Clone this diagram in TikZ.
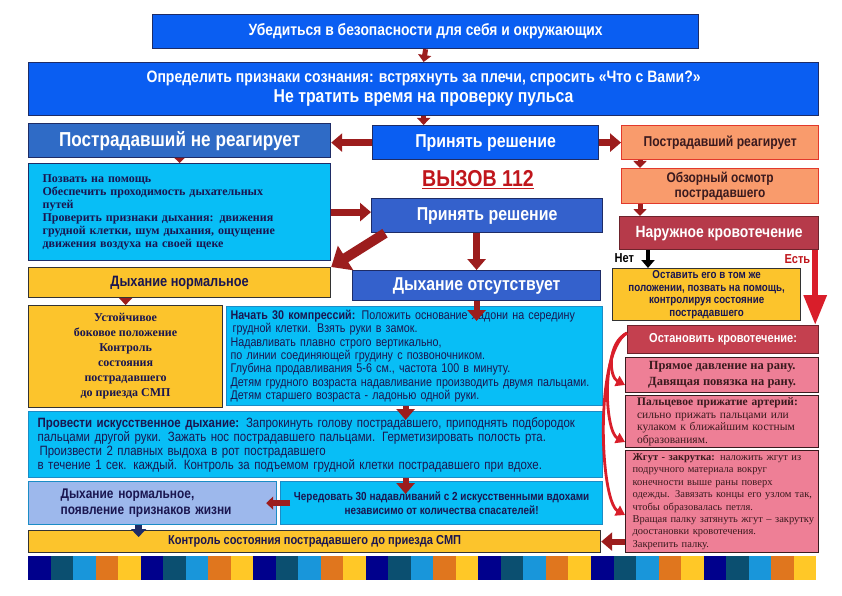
\documentclass[tikz,border=0pt]{standalone}
\usepackage{fontspec}
\setmainfont{Liberation Sans}[FakeStretch=0.85]
\newfontfamily\timesface{Liberation Serif}
\usetikzlibrary{arrows.meta}
\definecolor{AidBlue}{HTML}{0A5EF2}
\definecolor{AidMidBlue}{HTML}{2F6BC6}
\definecolor{AidDeepBlue}{HTML}{3461CC}
\definecolor{AidFrame}{HTML}{1E2C66}
\definecolor{AidCyan}{HTML}{08BEF6}
\definecolor{AidCyanFrame}{HTML}{1B8CC6}
\definecolor{AidYellow}{HTML}{FCC42C}
\definecolor{AidSalmon}{HTML}{F99B6C}
\definecolor{AidSalmonFrame}{HTML}{E2392B}
\definecolor{AidWine}{HTML}{B63A4A}
\definecolor{AidCrimson}{HTML}{C4404F}
\definecolor{AidRose}{HTML}{EE7F96}
\definecolor{AidPale}{HTML}{9DB8EC}
\definecolor{AidInk}{HTML}{1A1650}
\definecolor{AidBrown}{HTML}{3A1A1E}
\definecolor{AidArrow}{HTML}{9C1D1D}
\definecolor{AidRed}{HTML}{D91E2A}
\definecolor{AidCall}{HTML}{C0161C}
\definecolor{StripeNavy}{HTML}{00008C}
\definecolor{StripeTeal}{HTML}{0B4F70}
\definecolor{StripeSky}{HTML}{1996DA}
\definecolor{StripeOrange}{HTML}{E0761E}
\definecolor{StripeGold}{HTML}{FFC827}
\newcommand{\aidsize}[2]{\fontsize{#1}{#2}\selectfont}

\begin{document}
\begin{tikzpicture}[x=1pt,y=-1pt,
    box/.style={draw=AidFrame,line width=1.2pt,anchor=north west,inner sep=2pt,align=center,font=\bfseries},
    bluebox/.style={box,fill=AidBlue,text=white},
    midbox/.style={box,fill=AidDeepBlue,text=white},
    cyanbox/.style={box,fill=AidCyan,draw=AidCyanFrame,text=AidInk},
    yellowbox/.style={box,fill=AidYellow,draw=black!80,text=AidInk},
    salmonbox/.style={box,fill=AidSalmon,draw=AidSalmonFrame,text=AidBrown},
    winebox/.style={box,fill=AidWine,draw=AidWine!60!black,text=white},
    rosebox/.style={box,fill=AidRose,draw=AidBrown,text=AidBrown},
    flow/.style={draw=AidArrow,line width=7pt,-{Triangle[length=11pt,width=18pt]}},
    smallflow/.style={draw=AidArrow,line width=5pt,-{Triangle[length=7pt,width=13pt]}},
    bigflow/.style={draw=AidArrow,line width=10pt,-{Triangle[length=17pt,width=28pt]}},
    bleedflow/.style={draw=AidRed,line width=2.8pt,-{Triangle[length=9pt,width=11pt]}}]
  \fill[white] (0,0) rectangle (842,596);
  \useasboundingbox (0,0) rectangle (842,596);

  \node[bluebox,minimum width=546pt,minimum height=34pt,font=\bfseries\aidsize{16.3}{18}] (safety) at (152,14) {Убедиться в безопасности для себя и окружающих};
  \node[bluebox,minimum width=790pt,minimum height=53pt,font=\bfseries\aidsize{16.5}{20}] (conscious) at (28,62) {Определить признаки сознания: встряхнуть за плечи, спросить «Что с Вами?»\\{\aidsize{18.6}{20}Не тратить время на проверку пульса}};
  \node[box,fill=AidMidBlue,text=white,minimum width=302pt,minimum height=34pt,font=\bfseries\aidsize{20.2}{22}] (noresp) at (28,123) {Пострадавший не реагирует};
  \node[bluebox,minimum width=226pt,minimum height=34pt,font=\bfseries\aidsize{18.7}{20}] (decide) at (372,125) {Принять решение};
  \node[salmonbox,minimum width=197pt,minimum height=34pt,font=\bfseries\aidsize{14.3}{16}] (resp) at (621,125) {Пострадавший реагирует};
  \node[cyanbox,draw=AidFrame,minimum width=302pt,minimum height=97pt,text width=274pt,inner xsep=14pt,align=left,font=\timesface\bfseries\aidsize{12}{13}] (checks) at (28,163) {Позвать на помощь\\Обеспечить проходимость дыхательных\\путей\\Проверить признаки дыхания: движения\\грудной клетки, шум дыхания, ощущение\\движения воздуха на своей щеке};
  \node[text=AidCall,font=\bfseries\aidsize{23}{25}] (call) at (478,180) {\underline{ВЫЗОВ 112}};
  \node[midbox,minimum width=231pt,minimum height=34pt,font=\bfseries\aidsize{18.7}{20}] (decide2) at (371,198) {Принять решение};
  \node[salmonbox,minimum width=197pt,minimum height=35pt,font=\bfseries\aidsize{14}{15}] (exam) at (621,168) {Обзорный осмотр\\пострадавшего};
  \node[winebox,minimum width=199pt,minimum height=33pt,font=\bfseries\aidsize{16.3}{18}] (bleed) at (619,216) {Наружное кровотечение};
  \node[anchor=west,font=\bfseries\aidsize{13}{15}] (no) at (611,258) {Нет};
  \node[anchor=west,text=AidCall,font=\bfseries\aidsize{13}{15}] (yes) at (781,259) {Есть};
  \node[yellowbox,minimum width=188pt,minimum height=52pt,font=\bfseries\aidsize{11.5}{12.5}] (keep) at (612,268) {Оставить его в том же\\положении, позвать на помощь,\\контролируя состояние\\пострадавшего};
  \node[yellowbox,minimum width=302pt,minimum height=30pt,font=\bfseries\aidsize{15}{17}] (normal) at (28,267) {Дыхание нормальное};
  \node[midbox,minimum width=248pt,minimum height=30pt,font=\bfseries\aidsize{18.6}{20}] (absent) at (352,270) {Дыхание отсутствует};
  \node[yellowbox,minimum width=194pt,minimum height=102pt,font=\timesface\bfseries\aidsize{12}{15}] (stable) at (28,305) {Устойчивое\\боковое положение\\Контроль\\состояния\\пострадавшего\\до приезда СМП};
  \node[cyanbox,minimum width=376pt,minimum height=99pt,text width=368pt,inner xsep=4pt,inner ysep=1pt,align=left,font=\aidsize{12.6}{13.3}] (compress) at (226,306) {\textbf{Начать 30 компрессий:} Положить основание ладони на середину\\\hspace{2pt}грудной клетки. Взять руки в замок.\\Надавливать плавно строго вертикально,\\по линии соединяющей грудину с позвоночником.\\Глубина продавливания 5-6 см., частота 100 в минуту.\\Детям грудного возраста надавливание производить двумя пальцами.\\Детям старшего возраста - ладонью одной руки.};
  \node[winebox,fill=AidCrimson,minimum width=191pt,minimum height=28pt,font=\bfseries\aidsize{13}{14}] (stopbleed) at (627,325) {Остановить кровотечение:};
  \node[rosebox,minimum width=193pt,minimum height=35pt,font=\timesface\bfseries\aidsize{12.5}{16}] (pressure) at (625,357) {Прямое давление на рану.\\Давящая повязка на рану.};
  \node[rosebox,minimum width=193pt,minimum height=52pt,text width=170pt,inner xsep=11.5pt,inner ysep=1pt,align=left,font=\timesface\aidsize{11.5}{12.5}] (artery) at (625,395) {\textbf{Пальцевое прижатие артерий:}\\сильно прижать пальцами или\\кулаком к ближайшим костным\\образованиям.};
  \node[rosebox,minimum width=193pt,minimum height=102pt,text width=179pt,inner xsep=7pt,inner ysep=1pt,align=left,font=\timesface\aidsize{10.5}{12.4}] (tourniquet) at (625,450) {\textbf{Жгут - закрутка:} наложить жгут из\\подручного материала вокруг\\конечности выше раны поверх\\\mbox{одежды. Завязать концы его узлом так,}\\чтобы образовалась петля.\\\mbox{Вращая палку затянуть жгут – закрутку}\\доостановки кровотечения.\\Закрепить палку.};
  \node[cyanbox,minimum width=574pt,minimum height=66pt,text width=556pt,inner xsep=9pt,align=left,font=\aidsize{13.5}{14}] (breathe) at (28,411) {\textbf{Провести искусственное дыхание:} Запрокинуть голову пострадавшего, приподнять подбородок\\пальцами другой руки. Зажать нос пострадавшего пальцами. Герметизировать полость рта.\\\hspace{2pt}Произвести 2 плавных выдоха в рот пострадавшего\\в течение 1 сек. каждый. Контроль за подъемом грудной клетки пострадавшего при вдохе.};
  \node[cyanbox,fill=AidPale,minimum width=248pt,minimum height=43pt,text width=184pt,inner xsep=32pt,align=left,font=\bfseries\aidsize{14}{16}] (revived) at (28,481) {Дыхание нормальное,\\появление признаков жизни};
  \node[cyanbox,minimum width=322pt,minimum height=43pt,font=\bfseries\aidsize{11.7}{13.5}] (alternate) at (280,481) {Чередовать 30 надавливаний с 2 искусственными вдохами\\независимо от количества спасателей!};
  \node[yellowbox,minimum width=572pt,minimum height=22pt,font=\bfseries\aidsize{13}{14}] (control) at (28,530) {Контроль состояния пострадавшего до приезда СМП};

  \draw[smallflow] (safety.south) -- (conscious.north);
  \draw[smallflow] (conscious.south) -- (conscious.south |- decide.north);
  \draw[flow] (decide.west) -- (decide.west -| noresp.east);
  \draw[flow] (decide.east) -- (decide.east -| resp.west);
  \draw[smallflow,line width=4pt,-{Triangle[length=5pt,width=10pt]}] (noresp.south) -- (checks.north);
  \draw[flow] (checks.east) -- (checks.east -| decide2.west);
  \draw[bigflow] ([xshift=14pt]decide2.south west) -- (normal.north east);
  \draw[flow] (absent.north |- decide2.south) -- (absent.north);
  \draw[smallflow] (stable.north |- normal.south) -- (stable.north);
  \draw[flow,line width=6pt,shorten >=-15pt] (absent.south) -- (absent.south |- compress.north);
  \draw[flow,line width=6pt,shorten >=-9pt] ([xshift=-9pt]compress.south) -- ([xshift=-9pt]compress.south |- breathe.north);
  \draw[flow,line width=6pt,shorten >=-13pt] ([xshift=-9pt]compress.south |- breathe.south) -- ([xshift=-9pt]compress.south |- alternate.north);
  \draw[smallflow,line width=6pt,shorten <=-10pt,shorten >=-11pt] (alternate.west) -- (alternate.west -| revived.east);
  \draw[smallflow,draw=AidFrame,line width=7pt,-{Triangle[length=8pt,width=15pt]},shorten >=-7pt] ([xshift=-14pt]revived.south) -- ([xshift=-14pt]revived.south |- control.north);
  \draw[flow,line width=6pt] (tourniquet.west |- control.east) -- (control.east);
  \draw[smallflow] ([xshift=19pt]resp.south west) -- ([xshift=19pt]exam.north west);
  \draw[smallflow] ([xshift=19pt]exam.south west) -- ([xshift=21pt]bleed.north west);
  \draw[black,line width=4pt,-{Triangle[length=8pt,width=13pt]}] ([xshift=29pt]bleed.south west) -- ([xshift=29pt]bleed.south west |- keep.north);
  \draw[AidRed,line width=6pt,-{Triangle[length=30pt,width=22pt]}] ([xshift=-4pt]bleed.south east) -- ([xshift=-4pt]bleed.south east |- stopbleed.north);
  \draw[bleedflow] ([yshift=-8pt]stopbleed.north west) .. controls +(-20,10) and +(-16,-8) .. ([yshift=-28pt]pressure.north west);
  \draw[bleedflow] ([yshift=-8pt]stopbleed.north west) .. controls +(-27,14) and +(-20,-10) .. ([yshift=-47pt]artery.north west);
  \draw[bleedflow] ([yshift=-8pt]stopbleed.north west) .. controls +(-33,20) and +(-25,-14) .. ([yshift=-65pt]tourniquet.north west);

  \foreach \k in {0,...,6}
    \foreach \c [count=\j from 0] in {StripeNavy,StripeTeal,StripeSky,StripeOrange,StripeGold}
      \fill[\c] ({28+112.6*\k+22.52*\j},556) rectangle ++(22.6,24);
\end{tikzpicture}
\end{document}
